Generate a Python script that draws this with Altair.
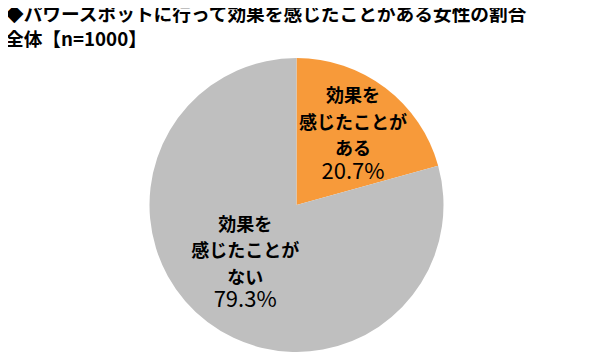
import altair as alt
import pandas as pd

# --- data ---
labels = ["効果を\n感じたことが\nある", "効果を\n感じたことが\nない"]
values = [20.7, 79.3]
colors = ["#F79A3A", "#BFBFBF"]
title_lines = ["◆パワースポットに行って効果を感じたことがある女性の割合", "全体【n=1000】"]

df = pd.DataFrame({"label": labels, "value": values, "order": list(range(len(labels)))})

FONT = "Noto Sans CJK JP"

base = (
    alt.Chart(df)
    .transform_joinaggregate(total="sum(value)")
    .transform_window(cum="sum(value)", sort=[alt.SortField("order")], frame=[None, 0])
    .transform_calculate(
        start="(datum.cum - datum.value) / datum.total * 2 * PI",
        end="datum.cum / datum.total * 2 * PI",
        mid="(datum.cum - datum.value / 2) / datum.total * 2 * PI",
        pct="format(datum.value, '.1f') + '%'",
    )
)

arc = base.mark_arc(radius=147, strokeWidth=0).encode(
    theta=alt.Theta("start:Q", scale=None),
    theta2="end:Q",
    color=alt.Color("label:N", scale=alt.Scale(domain=labels, range=colors), legend=None),
)


def label_layers(i, r, dx, dy_text, dy_pct):
    b = base.transform_filter(f"datum.order == {i}")
    t1 = b.mark_text(
        radius=r, dx=dx, dy=dy_text, font=FONT, fontSize=18, fontWeight="bold",
        lineBreak="\n", lineHeight=26.5, align="center", baseline="middle", color="#000000",
    ).encode(theta=alt.Theta("mid:Q", scale=None), text="label:N")
    t2 = b.mark_text(
        radius=r, dx=dx, dy=dy_pct, font=FONT, fontSize=22, fontWeight="normal",
        align="center", baseline="middle", color="#000000",
    ).encode(theta=alt.Theta("mid:Q", scale=None), text="pct:N")
    return [t1, t2]


layers = [arc] + label_layers(0, 100, -4, -28, 47) + label_layers(1, 65, -12, -31, 43)

chart = (
    alt.layer(*layers)
    .properties(
        width=577,
        height=294,
        autosize=alt.AutoSizeParams(type="none"),
        padding={"left": 0, "top": 50, "right": 0, "bottom": 0},
        title=alt.TitleParams(
            text=title_lines, anchor="start", orient="top", fontSize=18.7, font=FONT,
            fontWeight="bold", lineHeight=25, offset=8, dx=-3, color="#000000",
        ),
    )
    .configure_view(stroke=None)
    .configure(background="white")
)

chart.save("out.html", embed_options={"renderer": "svg", "actions": False})
